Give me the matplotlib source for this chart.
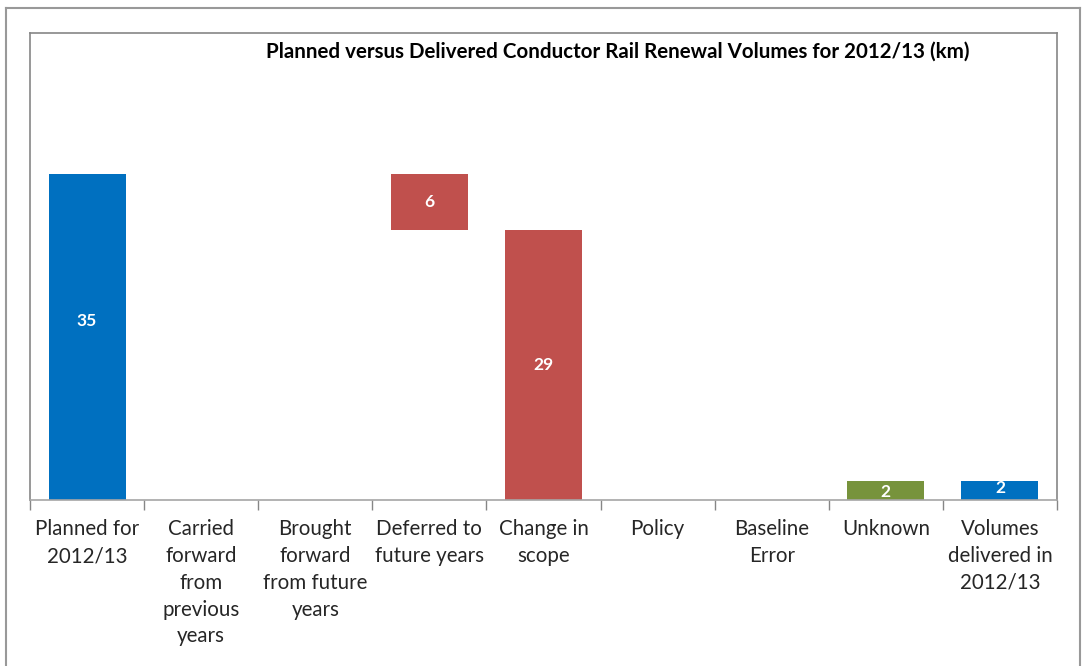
import matplotlib.pyplot as plt
from matplotlib.lines import Line2D
import numpy as np

# Waterfall data (km)
categories = ["Planned for\n2012/13", "Carried\nforward\nfrom\nprevious\nyears",
              "Brought\nforward\nfrom future\nyears", "Deferred to\nfuture years",
              "Change in\nscope", "Policy", "Baseline\nError", "Unknown",
              "Volumes\ndelivered in\n2012/13"]
planned = 35
changes = [0, 0, -6, -29, 0, 0, 2]  # signed movements between the totals
delivered = 2

blue = "#0070C0"
red = "#C0504D"
green = "#77933C"
grey = "#868686"

plt.rcParams['font.family'] = ['Lato', 'DejaVu Sans']

fig = plt.figure(figsize=(10.82, 6.66), dpi=100)
ax = fig.add_axes([30 / 1082, 1 - 500 / 666, 1027 / 1082, 467 / 666])

# build bars: bottoms, heights, colours, labels
bottoms, heights, cols, labels = [0], [planned], [blue], [planned]
running = planned
for c in changes:
    if c < 0:
        bottoms.append(running + c)
        heights.append(-c)
        cols.append(red)
    else:
        bottoms.append(running)
        heights.append(c)
        cols.append(green)
    labels.append(abs(c))
    running += c
bottoms.append(0)
heights.append(delivered)
cols.append(blue)
labels.append(delivered)

# where the value sits inside each bar (fraction of its height)
label_pos = [0.55, 0.5, 0.5, 0.5, 0.5, 0.5, 0.5, 0.45, 0.65]

x = np.arange(len(categories))
ax.bar(x, heights, bottom=bottoms, width=0.675, color=cols)
for xi, b, h, lab, f in zip(x, bottoms, heights, labels, label_pos):
    if h > 0:
        ax.text(xi, b + h * f, str(lab), ha="center", va="center",
                color="white", fontsize=12.5, fontweight="bold")

ax.set_xlim(-0.5, len(categories) - 0.5)
ax.set_ylim(0, 50.2)
ax.set_yticks([])
ax.set_xticks(x)
ax.set_xticklabels(categories, fontsize=14.8, color="#262626", linespacing=1.42)
ax.tick_params(axis="x", which="major", length=0, pad=14)
ax.set_xticks(np.arange(-0.5, len(categories)), minor=True)
ax.tick_params(axis="x", which="minor", length=7, width=1, color=grey, direction="out")
for s in ["left", "top", "right", "bottom"]:
    ax.spines[s].set_color(grey)
    ax.spines[s].set_linewidth(1.2)
ax.spines["bottom"].set_color("#A6A6A6")

fig.text(618 / 1082, 1 - 52 / 666,
         "Planned versus Delivered Conductor Rail Renewal Volumes for 2012/13 (km)",
         ha="center", va="center", fontsize=14.8, fontweight="bold", color="black")

# outer chart border
fig.add_artist(Line2D([6 / 1082, 6 / 1082], [0, 1 - 8 / 666], color="#999999", lw=1.5))
fig.add_artist(Line2D([6 / 1082, 1080 / 1082], [1 - 8 / 666, 1 - 8 / 666], color="#999999", lw=1.5))
fig.add_artist(Line2D([1080 / 1082, 1080 / 1082], [0, 1 - 8 / 666], color="#999999", lw=1.5))

plt.savefig("out.png", dpi=100)
